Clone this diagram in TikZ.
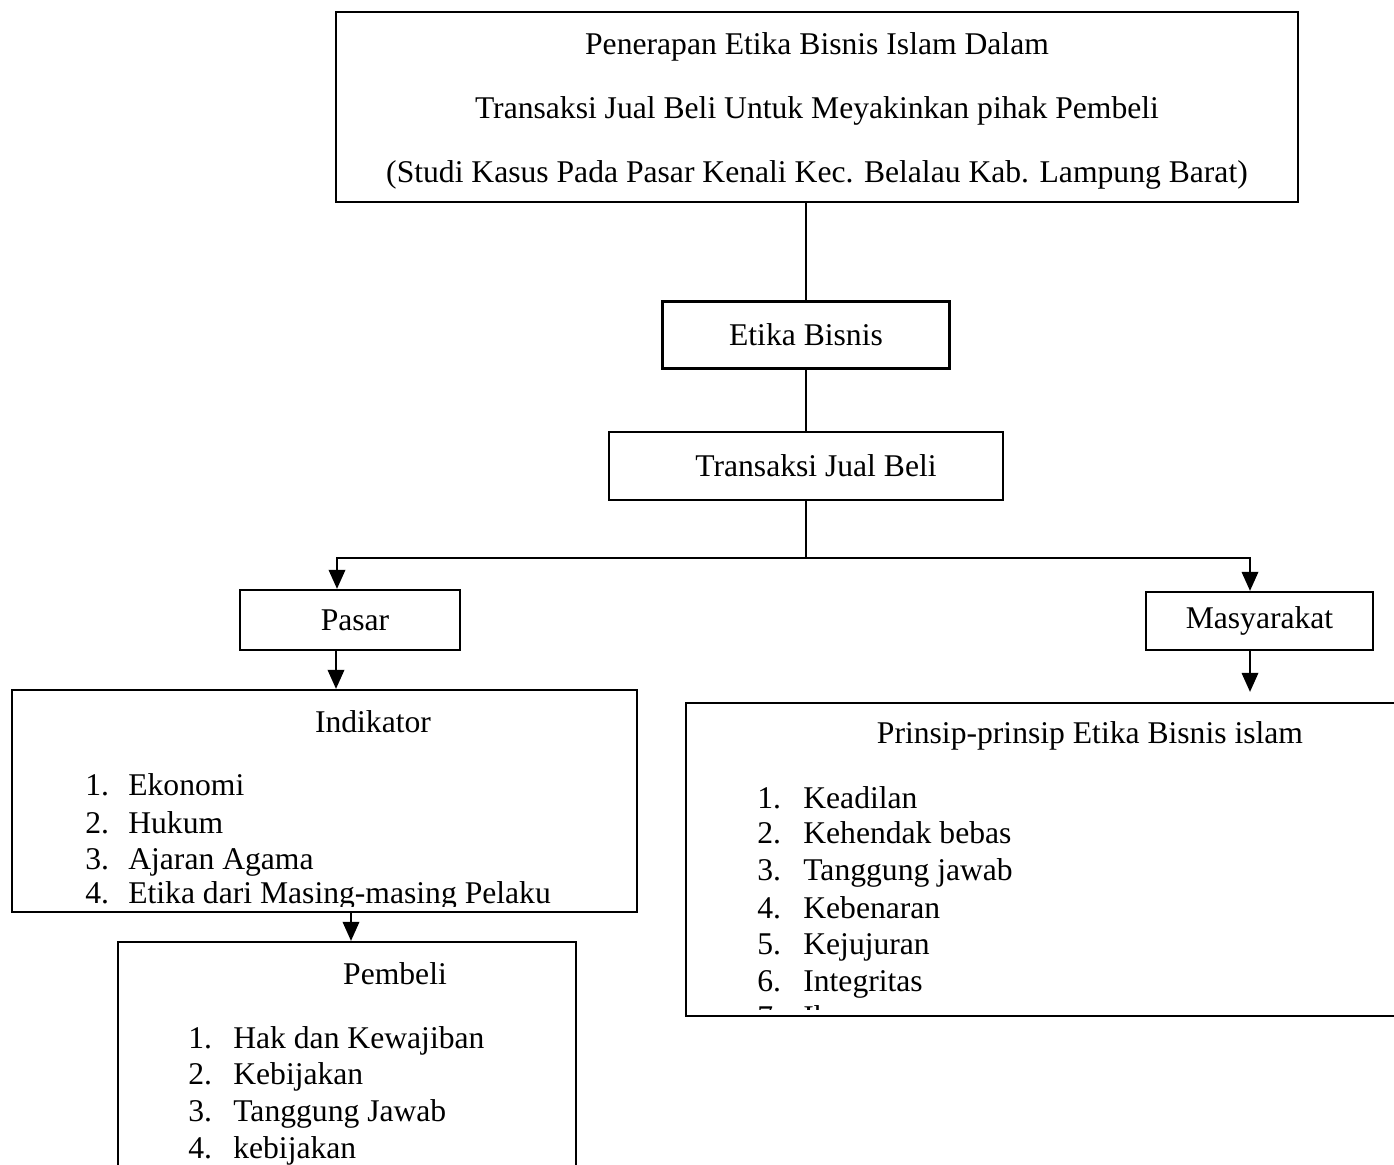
\documentclass[tikz,border=0pt]{standalone}
\usepackage{fontspec}
\setmainfont{Liberation Serif}
\usetikzlibrary{arrows.meta,calc}

\begin{document}
\begin{tikzpicture}[x=0.02cm, y=-0.02cm,
  box/.style={draw, line width=1.3pt, rectangle, inner sep=0pt, align=center,
              font=\fontsize{18}{22}\selectfont},
  txt/.style={inner sep=0pt, font=\fontsize{18}{22}\selectfont},
  entri/.style={txt, anchor=base west},
  ln/.style={line width=1.1pt},
  ar/.style={-{Triangle[length=3.8mm, width=3.3mm]}, line width=1.1pt},
]
\useasboundingbox (0,0) rectangle (1394,1165);

\node[box, minimum width=19.24cm, minimum height=3.8cm] (judul) at (817,107) {};
\node[txt, align=center, font=\fontsize{18}{36.3}\selectfont] (judulteks) at (817,111)
  {Penerapan Etika Bisnis Islam Dalam\\
  Transaksi Jual Beli Untuk Meyakinkan pihak Pembeli\\
  (Studi Kasus Pada Pasar Kenali Kec. Belalau Kab. Lampung Barat)};
\node[box, minimum width=5.74cm, minimum height=1.34cm] (etika) at (806,335) {Etika Bisnis};
\node[box, minimum width=7.88cm, minimum height=1.36cm] (trans) at (806,466) {\hspace{0.4cm}Transaksi Jual Beli};
\node[box, minimum width=4.4cm, minimum height=1.2cm] (pasar) at (350,620) {\hspace{0.2cm}Pasar};
\node[box, minimum width=4.54cm, minimum height=1.16cm] (masy) at (1259.5,621) {Masyarakat};

% kotak daftar
\node[box, minimum width=12.5cm, minimum height=4.44cm] (indik) at (324.5,801) {};
\node[txt] (indjudul) at (373,722) {Indikator};
\node[box, minimum width=9.16cm, minimum height=5.16cm] (pembeli) at (347,1071) {};
\node[txt] (pemjudul) at (395,974) {Pembeli};
\node[box, minimum width=14.68cm, minimum height=6.26cm] (prinsip) at (1053,859.5) {};
\node[txt] (prjudul) at (1090,736) {Prinsip-prinsip Etika Bisnis islam};

\begin{scope}
\clip (12,690) rectangle (637,906);
\node[entri] (i1) at (85,796) {\makebox[0.86cm][l]{1.}Ekonomi};
\node[entri] (i2) at (85,834) {\makebox[0.86cm][l]{2.}Hukum};
\node[entri] (i3) at (85,869) {\makebox[0.86cm][l]{3.}Ajaran Agama};
\node[entri] (i4) at (85,904) {\makebox[0.86cm][l]{4.}Etika dari Masing-masing Pelaku};
\end{scope}

\node[entri] (p1) at (188,1048) {\makebox[0.9cm][l]{1.}Hak dan Kewajiban};
\node[entri] (p2) at (188,1084) {\makebox[0.9cm][l]{2.}Kebijakan};
\node[entri] (p3) at (188,1121) {\makebox[0.9cm][l]{3.}Tanggung Jawab};
\node[entri] (p4) at (188,1158) {\makebox[0.9cm][l]{4.}kebijakan};

\begin{scope}
\clip (686,703) rectangle (1394,1009);
\node[entri] (r1) at (757,808) {\makebox[0.92cm][l]{1.}Keadilan};
\node[entri] (r2) at (757,844) {\makebox[0.92cm][l]{2.}Kehendak bebas};
\node[entri] (r3) at (757,881) {\makebox[0.92cm][l]{3.}Tanggung jawab};
\node[entri] (r4) at (757,918) {\makebox[0.92cm][l]{4.}Kebenaran};
\node[entri] (r5) at (757,954) {\makebox[0.92cm][l]{5.}Kejujuran};
\node[entri] (r6) at (757,991) {\makebox[0.92cm][l]{6.}Integritas};
\node[entri] (r7) at (757,1027) {\makebox[0.92cm][l]{7.}Ihsan};
\end{scope}

% penghubung
\coordinate (cab) at (806,558);
\draw[ln] (etika.north) -- (etika.north |- judul.south);
\draw[ln] (etika.south) -- (trans.north);
\draw[ln] (trans.south) -- (cab);
\draw[ar] (cab) -| ([xshift=-0.26cm]pasar.north);
\draw[ar] (cab) -| ([xshift=-0.19cm]masy.north);
\draw[ar] ([xshift=-0.28cm]pasar.south) -- ([xshift=-0.28cm]pasar.south |- indik.north);
\draw[ar] ([xshift=0.08cm]pembeli.north |- indik.south) -- ([xshift=0.08cm]pembeli.north);
\draw[ar] ([xshift=-0.19cm]masy.south) -- ([xshift=-0.19cm,yshift=0.2cm]masy.south |- prinsip.north);
\end{tikzpicture}
\end{document}
